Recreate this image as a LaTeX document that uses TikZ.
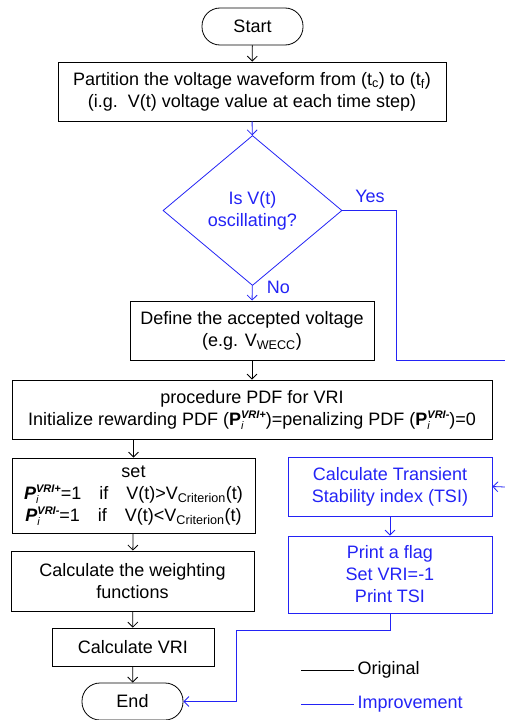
\documentclass[tikz,border=0pt]{standalone}
\usepackage{fontspec}
\setmainfont{Liberation Sans}
\usepackage{tikz}
\usetikzlibrary{shapes.geometric}
\usetikzlibrary{arrows.meta}
\definecolor{impblue}{RGB}{35,35,245}
\newcommand{\subsup}[1]{\rlap{\raisebox{-4pt}{\fontsize{11}{11}\selectfont\textit{i}}}\raisebox{7pt}{\fontsize{11}{11}\selectfont\textbf{\textit{VRI#1}}}}
\newcommand{\PV}[1]{\textbf{P}\subsup{#1}}
\newcommand{\PVi}[1]{\textbf{\textit{P}}\subsup{#1}}
\tikzset{
    x=1pt, y=-1pt, % pixel-like coordinates, y going down
    font=\fontsize{18}{22}\selectfont,
    process/.style={ % Sets the properties for each box
        draw, rectangle, line width=0.8pt,
        align=center, inner sep=2pt
    },
    terminal/.style={ % Start and End
        process,
        minimum width=101pt, minimum height=37pt,
        rounded corners=18pt
    },
    decision/.style={
        draw, diamond, line width=0.8pt, align=center,
        minimum width=179pt, minimum height=150pt, inner sep=0pt
    },
    improved/.style={ % The new parts of the method
        draw=impblue, text=impblue
    },
    every edge/.style={ % Sets the properties for each transition
        draw,
        -{Straight Barb[length=5pt,width=10pt]},
        line width=0.8pt
    },
    link/.style={
        -{Straight Barb[length=5pt,width=10pt]},
        line width=0.8pt
    }
}
\begin{document}
\begin{tikzpicture}
    \useasboundingbox (0,0) rectangle (505,720);

    \node[terminal] (start) at (252.5,26.5) {Start};
    \node[process, minimum width=388pt, minimum height=59pt] (part) at (252,91.5)
        {Partition the voltage waveform from (t\textsubscript{c}) to (t\textsubscript{f})\\
         (i.g.\ \ V(t) voltage value at each time step)};
    \node[decision, improved] (osc) at (252.5,210.5) {Is V(t)\\oscillating?};
    \node[process, minimum width=244pt, minimum height=59pt] (accept) at (252,330.5)
        {Define the accepted voltage\\(e.g. V\textsubscript{WECC})};
    \node[process, minimum width=480pt, minimum height=59pt] (pdf) at (252,409.5)
        {procedure PDF for VRI\\
         Initialize rewarding PDF (\PV{+})=penalizing PDF (\PV{-})=0};
    \node[process, minimum width=243pt, minimum height=75pt] (set) at (133.5,495.5)
        {set\\
         \PVi{+}=1\quad if\quad V(t)>V\textsubscript{Criterion}(t)\\
         \PVi{-}=1\quad if\quad V(t)<V\textsubscript{Criterion}(t)};
    \node[process, minimum width=243pt, minimum height=60pt] (weight) at (132.5,581)
        {Calculate the weighting\\functions};
    \node[process, minimum width=162pt, minimum height=38pt] (vri) at (133,647) {Calculate VRI};
    \node[terminal] (end) at (132.5,701.5) {End};

    \node[process, improved, minimum width=204pt, minimum height=59pt] (tsi) at (390,486.5)
        {Calculate Transient\\Stability index (TSI)};
    \node[process, improved, minimum width=204pt, minimum height=77pt] (flag) at (390,574.5)
        {Print a flag\\Set VRI=-1\\Print TSI};

    \node[text=impblue] (yes) at (370,196) {Yes};
    \node[text=impblue] (no) at (278.5,287) {No};

    % main flow
    \draw (start) edge (part);
    \draw[impblue] (part) edge (osc);
    \draw[impblue] (osc) edge (accept);
    \draw (accept) edge (pdf);
    \draw (pdf.south -| set.north) edge (set);
    \draw (set) edge (weight);
    \draw (weight) edge (vri);
    \draw (vri) edge (end);

    % the oscillating branch
    \coordinate (yesdown) at (396,360);
    \coordinate (yesout) at (505,360);
    \coordinate (tsiin) at (505,487);
    \coordinate (back) at (236,630);
    \draw[impblue, line width=0.8pt] (osc.east) -| (yesdown) -- (yesout);
    \draw[impblue, link] (tsiin) -- (tsi.east);
    \draw[impblue] (tsi) edge (flag);
    \draw[impblue, link] (flag.south) |- (back) |- (end.east);

    % legend
    \node[anchor=west] (orig) at (354,670) {Original};
    \node[anchor=west, text=impblue] (impr) at (354,704) {Improvement};
    \coordinate (origl) at (301,670);
    \coordinate (imprl) at (301,704);
    \draw[line width=0.8pt] (origl) -- (orig.west);
    \draw[impblue, line width=0.8pt] (imprl) -- (impr.west);
\end{tikzpicture}
\end{document}
